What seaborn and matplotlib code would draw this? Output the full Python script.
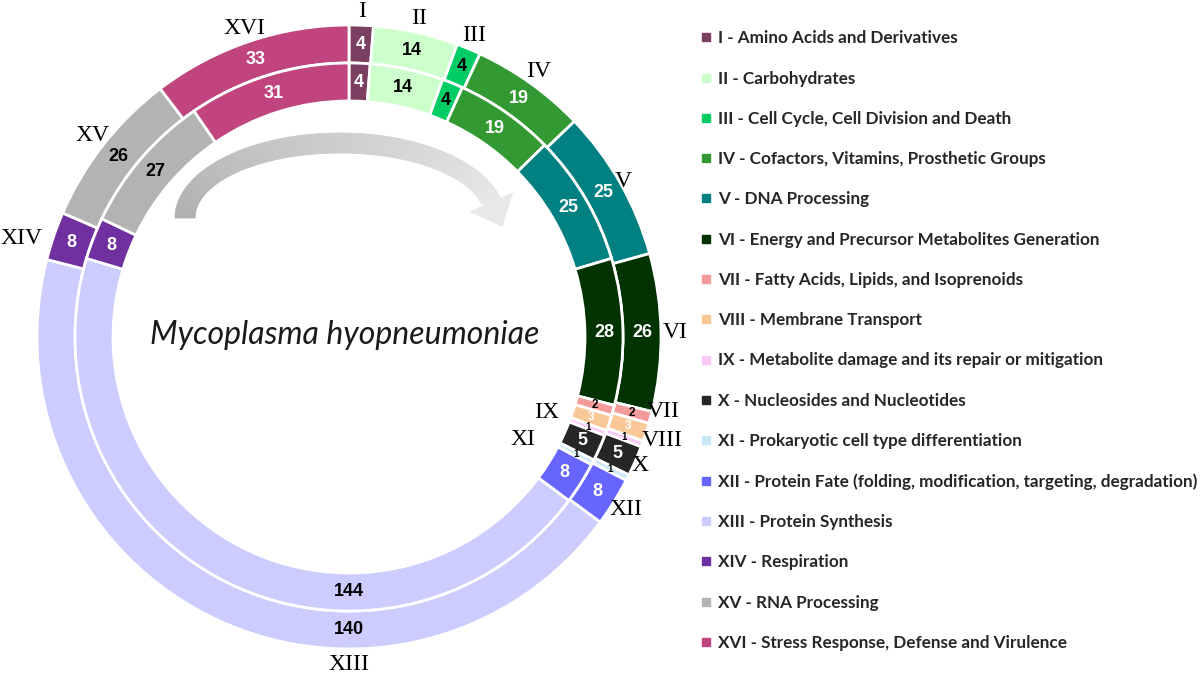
import numpy as np
import matplotlib
matplotlib.use("Agg")
import matplotlib.pyplot as plt
import seaborn as sns
from matplotlib.patches import Polygon
from matplotlib.lines import Line2D

sns.set_theme(style="white")

# ---------- data ----------
numerals = ["I", "II", "III", "IV", "V", "VI", "VII", "VIII", "IX", "X",
            "XI", "XII", "XIII", "XIV", "XV", "XVI"]
categories = ["Amino Acids and Derivatives", "Carbohydrates",
              "Cell Cycle, Cell Division and Death",
              "Cofactors, Vitamins, Prosthetic Groups", "DNA Processing",
              "Energy and Precursor Metabolites Generation",
              "Fatty Acids, Lipids, and Isoprenoids", "Membrane Transport",
              "Metabolite damage and its repair or mitigation",
              "Nucleosides and Nucleotides",
              "Prokaryotic cell type differentiation",
              "Protein Fate (folding, modification, targeting, degradation)",
              "Protein Synthesis", "Respiration", "RNA Processing",
              "Stress Response, Defense and Virulence"]
outer_counts = [4, 14, 4, 19, 25, 26, 2, 3, 1, 5, 1, 8, 140, 8, 26, 33]
inner_counts = [4, 14, 4, 19, 25, 28, 2, 3, 1, 5, 1, 8, 144, 8, 27, 31]

colors = ["#7b3f61", "#ccffcc", "#00cc66", "#339933", "#008080", "#003300",
          "#f49a9a", "#fac896", "#f9c9f7", "#262626", "#c8e8f7", "#6666ff",
          "#ccccff", "#7030a0", "#b3b3b3", "#c0457f"]
white_text = ["I", "IV", "V", "VI", "VIII", "X", "XII", "XIV", "XVI"]

# ---------- layout (pixels) ----------
CX, CY = 349, 339
R_OUT, R_IN, W = 312, 274, 38

fig = plt.figure(figsize=(12, 6.76), dpi=100)
ax = fig.add_axes([0, 0, 1, 1])

for counts, radius in [(outer_counts, R_OUT), (inner_counts, R_IN)]:
    ax.pie(counts, colors=colors, radius=radius, center=(CX, CY),
           startangle=90, counterclock=False,
           wedgeprops=dict(width=W, edgecolor="white", linewidth=2))

ax.set_xlim(0, 1200)
ax.set_ylim(0, 676)
ax.axis("off")


def polar(theta, r):
    # theta: clockwise degrees from 12 o'clock
    t = np.radians(theta)
    return CX + r * np.sin(t), CY + r * np.cos(t)


def mid_angles(counts):
    c = np.array(counts, dtype=float)
    return (np.cumsum(c) - c / 2) / c.sum() * 360


# value labels
for counts, r in [(outer_counts, R_OUT - 19), (inner_counts, R_IN - 19)]:
    for num, v, th in zip(numerals, counts, mid_angles(counts)):
        if num == "XIII":
            th = 180
        size = 13 if v >= 4 else (8.5 if v >= 2 else 7)
        col = "white" if num in white_text else "black"
        x, y = polar(th, r)
        ax.text(x, y, str(v), ha="center", va="center", fontsize=size,
                fontweight="bold", color=col, family="Liberation Sans")

# roman numeral labels
label_pos = {"VII": (103.3, 323), "VIII": (108.2, 330), "IX": (111, 212),
             "X": (113.9, 318), "XI": (120.6, 202), "XIII": (180, 327),
             "V": (60.4, 315), "XIV": (286.8, 342)}
for num, th in zip(numerals, mid_angles(outer_counts)):
    th, r = label_pos.get(num, (th, 326))
    x, y = polar(th, r)
    ax.text(x, y, num, ha="center", va="center", fontsize=17,
            family="Liberation Serif", color="black")

# curved gradient arrow
ecx, ecy = 340, 458
a_o, b_o, a_i, b_i = 165, 85, 145, 65
ts = np.linspace(180, 12, 80)
c0, c1 = np.array([0.69, 0.69, 0.69]), np.array([0.91, 0.91, 0.91])
for i in range(len(ts) - 1):
    t0, t1 = np.radians(ts[i]), np.radians(ts[i + 1])
    pts = [(ecx + a_o * np.cos(t0), ecy + b_o * np.sin(t0)),
           (ecx + a_o * np.cos(t1), ecy + b_o * np.sin(t1)),
           (ecx + a_i * np.cos(t1), ecy + b_i * np.sin(t1)),
           (ecx + a_i * np.cos(t0), ecy + b_i * np.sin(t0))]
    col = c0 + (c1 - c0) * i / (len(ts) - 2)
    ax.add_patch(Polygon(pts, closed=True, facecolor=col, edgecolor=col, lw=0.6))
te = np.radians(ts[-1])
am, bm = (a_o + a_i) / 2, (b_o + b_i) / 2
mx, my = ecx + am * np.cos(te), ecy + bm * np.sin(te)
d = np.array([am * np.sin(te), -bm * np.cos(te)])
d /= np.linalg.norm(d)
n = np.array([-d[1], d[0]])
head = [(mx + 23 * n[0], my + 23 * n[1]), (mx - 23 * n[0], my - 23 * n[1]),
        (mx + 26 * d[0], my + 26 * d[1])]
ax.add_patch(Polygon(head, closed=True, facecolor=c1, edgecolor=c1, lw=0.6))

# species name
ax.text(345, 676 - 335, "Mycoplasma hyopneumoniae", ha="center", va="center",
        fontsize=23, style="italic", fontweight="normal", family="Lato",
        color="#1a1a1a")

# legend
handles = [Line2D([], [], marker="s", linestyle="none", markersize=6,
                  markerfacecolor=c, markeredgecolor=c) for c in colors]
labels = [f"{n} - {c}" for n, c in zip(numerals, categories)]
fig.legend(handles, labels, loc="upper left", bbox_to_anchor=(0.583, 0.955),
           frameon=False, handlelength=0.8, handletextpad=0.3,
           borderpad=0, borderaxespad=0, labelspacing=1.42,
           prop=dict(family="Lato", weight="bold", size=12.3))

fig.savefig("out.png", dpi=100)
